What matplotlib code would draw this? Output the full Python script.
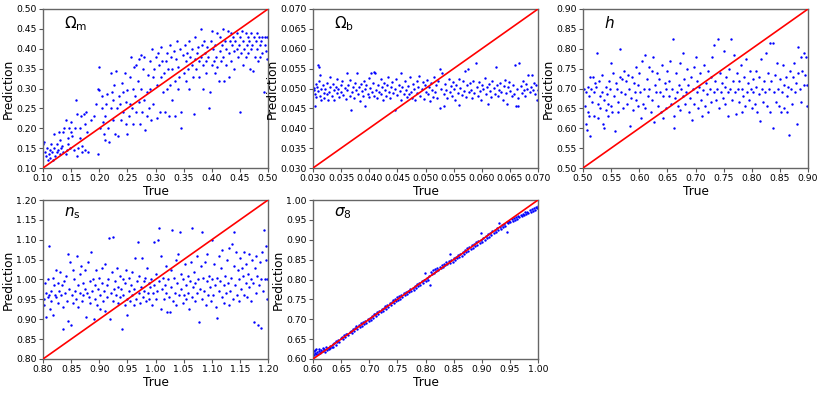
import matplotlib
matplotlib.use("Agg")
import matplotlib.pyplot as plt

# ---------------- data ----------------
om_x = [0.100,0.102,0.103,0.105,0.107,0.108,0.110,0.112,0.113,0.115,0.116,0.118,0.120,0.120,0.122,0.124,0.125,0.127,0.128,0.130,0.130,0.132,0.134,0.135,0.136,0.138,0.140,0.140,0.142,0.144,0.145,0.147,0.148,0.150,0.150,
        0.152,0.155,0.156,0.158,0.160,0.160,0.162,0.165,0.166,0.168,0.170,0.170,0.172,0.174,0.175,0.176,0.178,0.180,0.185,0.190,0.195,0.198,0.198,0.200,0.200,
        0.202,0.204,0.205,0.207,0.208,0.210,0.210,0.212,0.214,0.215,0.217,0.220,0.220,0.222,0.224,0.225,0.227,0.228,0.230,0.232,0.233,0.235,0.237,0.238,0.240,0.242,0.243,0.245,0.247,0.248,0.250,0.250,
        0.252,0.254,0.255,0.256,0.258,0.260,0.260,0.262,0.264,0.265,0.266,0.268,0.270,0.270,0.272,0.274,0.275,0.276,0.278,0.280,0.280,0.282,0.284,0.285,0.286,0.288,0.290,0.290,0.292,0.294,0.295,0.296,0.298,
        0.300,0.302,0.303,0.305,0.306,0.308,0.310,0.310,0.312,0.314,0.315,0.316,0.318,0.320,0.320,0.322,0.324,0.325,0.326,0.328,0.330,0.330,0.332,0.334,0.335,0.337,0.338,0.340,0.340,0.342,0.344,0.345,0.346,0.348,0.350,
        0.352,0.354,0.355,0.356,0.358,0.360,0.360,0.362,0.364,0.365,0.366,0.368,0.370,0.370,0.372,0.374,0.375,0.377,0.378,0.380,0.380,0.382,0.384,0.385,0.386,0.388,0.390,0.390,0.392,0.394,0.395,0.396,0.398,0.400,
        0.400,0.402,0.404,0.405,0.406,0.408,0.410,0.410,0.412,0.414,0.415,0.416,0.418,0.420,0.420,0.422,0.424,0.425,0.426,0.428,0.430,0.430,0.432,0.434,0.435,0.436,0.438,0.440,0.440,0.442,0.444,0.445,0.446,0.448,0.450,
        0.450,0.452,0.454,0.455,0.456,0.458,0.460,0.460,0.462,0.464,0.465,0.466,0.468,0.470,0.470,0.472,0.474,0.475,0.476,0.478,0.480,0.480,0.482,0.484,0.485,0.486,0.488,0.490,0.490,0.492,0.494,0.495,0.496,0.498,0.499]
om_y = [0.160,0.165,0.140,0.130,0.150,0.120,0.135,0.145,0.125,0.160,0.140,0.120,0.150,0.185,0.130,0.140,0.160,0.145,0.190,0.135,0.170,0.150,0.155,0.190,0.140,0.200,0.135,0.220,0.145,0.160,0.175,0.200,0.150,0.215,0.190,
        0.180,0.145,0.200,0.270,0.235,0.130,0.150,0.175,0.200,0.230,0.140,0.155,0.235,0.145,0.210,0.240,0.190,0.140,0.220,0.230,0.260,0.300,0.135,0.295,0.355,
        0.200,0.280,0.250,0.215,0.185,0.230,0.170,0.260,0.285,0.200,0.165,0.250,0.340,0.290,0.270,0.220,0.310,0.185,0.345,0.250,0.180,0.280,0.260,0.220,0.315,0.240,0.290,0.340,0.210,0.265,0.185,0.295,
        0.230,0.260,0.330,0.380,0.250,0.300,0.210,0.355,0.280,0.240,0.360,0.320,0.265,0.375,0.210,0.385,0.300,0.240,0.350,0.270,0.380,0.195,0.290,0.230,0.335,0.250,0.370,0.300,0.220,0.400,0.330,0.260,0.350,
        0.380,0.225,0.310,0.390,0.360,0.240,0.330,0.405,0.370,0.290,0.340,0.240,0.370,0.390,0.300,0.350,0.230,0.410,0.310,0.380,0.350,0.270,0.395,0.230,0.320,0.375,0.420,0.300,0.355,0.330,0.400,0.200,0.240,0.385,0.340,
        0.410,0.370,0.320,0.390,0.350,0.420,0.300,0.380,0.360,0.400,0.330,0.235,0.375,0.430,0.350,0.390,0.405,0.370,0.330,0.450,0.380,0.410,0.360,0.300,0.420,0.390,0.370,0.340,0.405,0.380,0.250,0.290,0.420,0.360,
        0.445,0.400,0.370,0.340,0.410,0.380,0.440,0.355,0.320,0.395,0.430,0.370,0.410,0.450,0.380,0.320,0.420,0.400,0.360,0.445,0.390,0.330,0.420,0.440,0.370,0.410,0.430,0.395,0.350,0.420,0.400,0.440,0.380,0.410,0.240,
        0.430,0.390,0.445,0.420,0.360,0.400,0.440,0.380,0.410,0.430,0.390,0.420,0.350,0.440,0.400,0.410,0.345,0.430,0.380,0.420,0.400,0.440,0.370,0.430,0.410,0.380,0.420,0.430,0.390,0.290,0.410,0.430,0.395,0.375,0.430]

ob_x = [0.0301,0.0302,0.0303,0.0304,0.0305,0.0306,0.0307,0.0308,0.0309,0.0310,0.0311,0.0312,0.0313,0.0314,0.0315,0.0317,0.0319,0.0320,0.0322,0.0324,0.0325,0.0327,0.0328,0.0330,0.0331,0.0333,0.0335,0.0337,0.0338,0.0340,
        0.0342,0.0343,0.0345,0.0347,0.0349,0.0350,0.0352,0.0354,0.0356,0.0358,0.0360,0.0361,0.0363,0.0365,0.0366,0.0368,0.0369,0.0371,0.0373,0.0375,0.0376,0.0378,0.0380,0.0381,0.0383,0.0385,0.0387,0.0389,0.0390,0.0392,
        0.0393,0.0395,0.0397,0.0399,0.0400,0.0402,0.0403,0.0405,0.0406,0.0408,0.0409,0.0411,0.0412,0.0414,0.0416,0.0418,0.0420,0.0421,0.0423,0.0425,0.0427,0.0428,0.0430,0.0432,0.0434,0.0435,0.0437,0.0439,0.0441,0.0443,
        0.0445,0.0446,0.0448,0.0450,0.0452,0.0454,0.0456,0.0457,0.0459,0.0461,0.0463,0.0465,0.0467,0.0469,0.0470,0.0472,0.0474,0.0476,0.0478,0.0480,0.0482,0.0484,0.0485,0.0487,0.0489,0.0491,0.0493,0.0495,0.0497,0.0499,
        0.0500,0.0502,0.0504,0.0506,0.0508,0.0510,0.0512,0.0513,0.0515,0.0517,0.0519,0.0521,0.0523,0.0525,0.0526,0.0528,0.0530,0.0532,0.0533,0.0535,0.0537,0.0539,0.0541,0.0543,0.0545,0.0547,0.0549,0.0551,0.0553,0.0555,
        0.0557,0.0559,0.0560,0.0562,0.0564,0.0566,0.0568,0.0570,0.0572,0.0574,0.0575,0.0577,0.0579,0.0581,0.0583,0.0585,0.0587,0.0589,0.0591,0.0593,0.0595,0.0597,0.0599,0.0601,0.0603,0.0605,0.0607,0.0609,0.0611,0.0613,
        0.0615,0.0617,0.0619,0.0621,0.0623,0.0625,0.0627,0.0629,0.0631,0.0633,0.0635,0.0637,0.0639,0.0641,0.0643,0.0645,0.0647,0.0649,0.0651,0.0653,0.0655,0.0657,0.0659,0.0660,0.0662,0.0664,0.0665,0.0667,0.0669,0.0671,
        0.0673,0.0675,0.0677,0.0679,0.0681,0.0683,0.0685,0.0687,0.0689,0.0691,0.0693,0.0695,0.0697,0.0698,0.0700]
ob_y = [0.0495,0.0502,0.0457,0.0487,0.0512,0.0478,0.0505,0.0560,0.0493,0.0555,0.0520,0.0482,0.0535,0.0498,0.0470,0.0508,0.0489,0.0476,0.0500,0.0515,0.0485,0.0470,0.0492,0.0530,0.0503,0.0481,0.0512,0.0495,0.0472,0.0505,
        0.0488,0.0525,0.0499,0.0478,0.0510,0.0492,0.0518,0.0484,0.0502,0.0473,0.0540,0.0496,0.0508,0.0480,0.0522,0.0445,0.0490,0.0503,0.0476,0.0515,0.0497,0.0540,0.0486,0.0505,0.0468,0.0511,0.0493,0.0480,0.0520,0.0499,
        0.0456,0.0508,0.0486,0.0527,0.0478,0.0502,0.0540,0.0490,0.0513,0.0542,0.0482,0.0540,0.0497,0.0475,0.0510,0.0492,0.0523,0.0486,0.0504,0.0470,0.0515,0.0495,0.0482,0.0508,0.0528,0.0491,0.0477,0.0503,0.0516,0.0488,
        0.0447,0.0500,0.0525,0.0483,0.0510,0.0494,0.0472,0.0540,0.0505,0.0487,0.0518,0.0496,0.0479,0.0507,0.0485,0.0528,0.0492,0.0476,0.0512,0.0498,0.0470,0.0520,0.0489,0.0505,0.0531,0.0481,0.0498,0.0516,0.0474,0.0509,
        0.0490,0.0522,0.0485,0.0503,0.0468,0.0515,0.0496,0.0479,0.0530,0.0492,0.0508,0.0475,0.0519,0.0550,0.0452,0.0500,0.0540,0.0455,0.0487,0.0512,0.0495,0.0476,0.0525,0.0490,0.0507,0.0481,0.0516,0.0498,0.0472,0.0510,
        0.0488,0.0523,0.0458,0.0502,0.0484,0.0518,0.0494,0.0545,0.0478,0.0508,0.0550,0.0490,0.0514,0.0497,0.0475,0.0520,0.0488,0.0565,0.0504,0.0482,0.0516,0.0493,0.0471,0.0510,0.0498,0.0527,0.0485,0.0505,0.0460,0.0512,
        0.0494,0.0478,0.0520,0.0501,0.0487,0.0555,0.0509,0.0480,0.0496,0.0515,0.0490,0.0472,0.0506,0.0522,0.0488,0.0462,0.0503,0.0517,0.0493,0.0480,0.0510,0.0485,0.0560,0.0455,0.0498,0.0476,0.0455,0.0565,0.0507,0.0489,
        0.0520,0.0496,0.0481,0.0512,0.0500,0.0535,0.0490,0.0503,0.0535,0.0497,0.0515,0.0486,0.0509,0.0470,0.0495]

h_x = [0.501,0.503,0.505,0.506,0.507,0.508,0.509,0.510,0.511,0.512,0.513,0.515,0.516,0.518,0.519,0.520,0.522,0.523,0.525,0.526,0.527,0.528,0.530,0.531,0.533,0.534,0.535,0.537,0.538,0.540,
       0.541,0.542,0.544,0.545,0.547,0.548,0.549,0.550,0.551,0.553,0.555,0.557,0.558,0.560,0.562,0.563,0.565,0.566,0.568,0.570,0.571,0.573,0.575,0.577,0.578,0.580,0.582,0.583,0.585,0.587,
       0.588,0.590,0.592,0.594,0.595,0.597,0.598,0.600,0.602,0.603,0.605,0.606,0.608,0.610,0.611,0.613,0.615,0.617,0.618,0.620,0.622,0.623,0.625,0.626,0.628,0.630,0.632,0.633,0.635,0.637,
       0.638,0.640,0.642,0.643,0.645,0.647,0.648,0.650,0.652,0.653,0.655,0.657,0.658,0.660,0.661,0.662,0.663,0.665,0.667,0.668,0.670,0.672,0.673,0.675,0.677,0.678,0.680,0.682,0.683,0.685,
       0.687,0.688,0.690,0.692,0.693,0.695,0.697,0.698,0.700,0.702,0.703,0.705,0.707,0.708,0.710,0.712,0.713,0.715,0.717,0.718,0.720,0.722,0.723,0.725,0.727,0.728,0.730,0.732,0.733,0.735,
       0.737,0.738,0.740,0.741,0.743,0.745,0.747,0.748,0.750,0.752,0.753,0.755,0.757,0.758,0.760,0.762,0.763,0.765,0.767,0.768,0.770,0.772,0.773,0.775,0.777,0.778,0.780,0.782,0.783,0.785,
       0.787,0.788,0.790,0.792,0.793,0.795,0.797,0.798,0.800,0.802,0.803,0.805,0.807,0.808,0.810,0.812,0.813,0.815,0.817,0.818,0.820,0.822,0.823,0.825,0.827,0.828,0.830,0.832,0.833,0.835,
       0.837,0.838,0.840,0.842,0.843,0.845,0.847,0.848,0.850,0.852,0.853,0.855,0.857,0.858,0.860,0.862,0.863,0.865,0.866,0.868,0.870,0.872,0.873,0.875,0.877,0.878,0.880,0.882,0.883,0.885,
       0.887,0.888,0.890,0.892,0.893,0.895,0.897,0.898,0.899]
h_y = [0.700,0.655,0.610,0.690,0.595,0.640,0.705,0.680,0.630,0.580,0.728,0.700,0.665,0.730,0.630,0.690,0.715,0.705,0.790,0.660,0.625,0.720,0.680,0.650,0.735,0.690,0.610,0.670,0.600,0.705,
       0.645,0.685,0.630,0.660,0.720,0.700,0.655,0.765,0.640,0.740,0.680,0.592,0.715,0.700,0.665,0.640,0.800,0.730,0.690,0.725,0.650,0.745,0.685,0.720,0.660,0.735,0.700,0.605,0.675,0.730,
       0.645,0.715,0.690,0.755,0.670,0.710,0.655,0.740,0.690,0.625,0.770,0.660,0.700,0.785,0.650,0.725,0.680,0.755,0.700,0.640,0.745,0.670,0.780,0.615,0.710,0.690,0.740,0.655,0.725,0.690,
       0.640,0.760,0.680,0.625,0.715,0.700,0.650,0.745,0.680,0.720,0.770,0.660,0.700,0.825,0.630,0.600,0.675,0.740,0.690,0.655,0.710,0.765,0.645,0.700,0.680,0.790,0.725,0.660,0.690,0.750,
       0.710,0.640,0.675,0.730,0.620,0.700,0.755,0.660,0.780,0.690,0.720,0.650,0.705,0.740,0.670,0.630,0.695,0.760,0.655,0.715,0.685,0.745,0.640,0.700,0.730,0.665,0.780,0.690,0.810,0.720,
       0.670,0.700,0.825,0.650,0.740,0.690,0.715,0.675,0.795,0.705,0.660,0.730,0.630,0.690,0.750,0.700,0.825,0.670,0.720,0.785,0.690,0.635,0.740,0.700,0.665,0.720,0.760,0.640,0.700,0.680,
       0.730,0.655,0.775,0.690,0.715,0.670,0.745,0.700,0.650,0.725,0.690,0.660,0.745,0.705,0.640,0.730,0.685,0.617,0.775,0.700,0.665,0.720,0.690,0.790,0.655,0.740,0.700,0.815,0.640,0.720,
       0.815,0.600,0.690,0.735,0.665,0.765,0.700,0.655,0.725,0.640,0.690,0.760,0.710,0.650,0.730,0.680,0.640,0.705,0.584,0.745,0.700,0.660,0.730,0.765,0.690,0.715,0.610,0.805,0.740,0.700,
       0.780,0.665,0.745,0.710,0.790,0.735,0.780,0.710,0.655]

ns_x = [0.801,0.802,0.803,0.805,0.806,0.808,0.809,0.810,0.811,0.812,0.814,0.815,0.817,0.818,0.820,0.821,0.823,0.824,0.826,0.827,0.829,0.830,0.832,0.833,0.835,0.836,0.838,0.839,0.841,0.842,
        0.844,0.845,0.847,0.848,0.850,0.851,0.853,0.854,0.856,0.857,0.859,0.860,0.862,0.863,0.865,0.866,0.868,0.869,0.871,0.872,0.874,0.875,0.877,0.878,0.880,0.881,0.883,0.884,0.886,0.887,
        0.889,0.890,0.892,0.893,0.895,0.896,0.898,0.899,0.901,0.902,0.904,0.905,0.907,0.908,0.910,0.911,0.913,0.914,0.916,0.918,0.919,0.921,0.922,0.924,0.925,0.927,0.928,0.930,0.931,0.933,
        0.934,0.936,0.937,0.939,0.940,0.942,0.943,0.945,0.946,0.948,0.949,0.950,0.952,0.953,0.955,0.956,0.958,0.959,0.961,0.962,0.964,0.965,0.967,0.968,0.970,0.971,0.973,0.974,0.976,0.977,
        0.979,0.980,0.982,0.983,0.985,0.986,0.988,0.989,0.991,0.992,0.994,0.995,0.997,0.998,1.000,1.001,1.003,1.004,1.006,1.007,1.009,1.010,1.012,1.013,1.015,1.016,1.018,1.019,1.021,1.022,
        1.024,1.025,1.027,1.028,1.030,1.031,1.033,1.034,1.036,1.037,1.039,1.040,1.042,1.043,1.045,1.046,1.048,1.049,1.051,1.052,1.054,1.055,1.057,1.058,1.060,1.061,1.063,1.064,1.065,1.067,
        1.068,1.070,1.071,1.073,1.074,1.076,1.078,1.079,1.080,1.082,1.083,1.085,1.086,1.088,1.089,1.091,1.092,1.094,1.095,1.097,1.098,1.100,1.101,1.103,1.104,1.106,1.107,1.109,1.110,1.112,
        1.113,1.115,1.116,1.118,1.119,1.121,1.122,1.124,1.125,1.127,1.128,1.130,1.131,1.133,1.134,1.136,1.137,1.139,1.140,1.142,1.143,1.145,1.146,1.148,1.149,1.151,1.152,1.154,1.155,1.157,
        1.158,1.160,1.161,1.163,1.164,1.166,1.167,1.169,1.170,1.172,1.173,1.175,1.176,1.178,1.179,1.181,1.183,1.184,1.186,1.187,1.188,1.190,1.191,1.193,1.194,1.196,1.197,1.198,1.199]
ns_y = [0.950,0.935,0.990,0.965,0.905,0.955,1.000,1.085,0.960,0.925,0.970,0.945,1.005,0.910,0.985,0.960,1.025,0.955,0.990,0.940,0.970,1.020,0.960,0.985,0.875,0.930,0.995,0.965,1.010,0.945,
        1.065,0.895,0.975,1.045,0.885,0.960,1.025,0.940,1.000,0.970,0.950,1.060,0.985,0.930,1.015,0.965,1.035,0.945,0.990,0.960,1.025,0.975,0.905,0.965,1.045,0.955,0.995,0.940,1.070,0.970,
        1.000,0.900,0.985,0.950,1.025,0.935,0.975,1.005,0.960,0.925,0.990,1.030,0.945,0.970,1.040,0.920,0.985,0.955,1.000,1.105,0.900,0.965,1.020,0.945,1.108,0.975,0.995,0.960,1.030,0.940,
        0.980,1.010,0.955,0.975,0.875,1.000,0.960,0.935,0.990,1.025,0.950,0.910,0.970,1.005,0.945,0.985,0.960,1.020,0.935,0.975,1.055,0.950,0.995,1.095,0.965,1.010,0.940,0.980,1.055,0.955,
        0.995,0.970,1.005,0.945,1.030,0.965,0.990,0.950,0.980,1.000,0.935,0.965,1.095,0.985,0.950,1.015,0.970,1.100,0.995,1.130,0.925,1.060,0.975,1.005,0.950,0.985,1.035,0.965,0.917,1.000,
        0.955,0.917,1.025,0.980,1.125,0.945,1.005,0.965,1.050,0.935,0.990,1.065,0.960,1.120,1.015,0.975,0.940,1.000,0.960,1.040,0.985,0.950,1.010,0.965,0.925,0.995,1.045,0.955,1.130,0.980,
        1.020,0.945,0.990,1.060,0.965,1.000,0.893,0.975,1.035,1.120,0.950,1.005,0.970,1.045,0.935,0.995,1.065,0.960,1.010,0.980,0.945,1.100,1.000,0.960,1.040,0.985,0.930,1.005,0.902,1.060,
        0.970,0.995,1.030,0.955,1.075,0.985,0.940,1.010,0.965,1.050,0.990,0.935,1.080,0.970,1.005,1.090,0.950,1.035,1.120,0.985,1.070,0.960,1.025,1.000,0.945,1.055,0.975,1.030,1.010,0.960,
        1.070,0.990,1.040,0.955,1.015,1.065,0.980,1.000,0.945,1.050,0.990,0.893,1.030,0.965,1.060,1.010,0.885,0.985,1.045,1.000,0.878,1.070,0.970,1.125,1.000,1.050,1.085,0.950,1.000]

s8_x = [0.600,0.601,0.602,0.603,0.604,0.605,0.606,0.607,0.608,0.610,0.611,0.612,0.614,0.615,0.617,0.618,0.620,0.621,0.623,0.624,0.626,0.628,0.630,0.631,0.633,0.635,0.636,0.638,0.640,0.641,
        0.643,0.645,0.647,0.649,0.651,0.653,0.655,0.657,0.659,0.661,0.663,0.665,0.667,0.669,0.671,0.673,0.675,0.677,0.679,0.681,0.683,0.685,0.687,0.689,0.691,0.693,0.695,0.697,0.699,0.701,
        0.703,0.705,0.707,0.709,0.711,0.712,0.714,0.716,0.718,0.720,0.722,0.724,0.726,0.728,0.730,0.732,0.734,0.736,0.738,0.740,0.742,0.744,0.745,0.747,0.749,0.751,0.753,0.755,0.757,0.759,
        0.761,0.763,0.765,0.767,0.769,0.771,0.773,0.775,0.777,0.779,0.781,0.783,0.785,0.787,0.789,0.791,0.793,0.795,0.797,0.799,0.800,0.802,0.804,0.806,0.808,0.809,0.811,0.813,0.815,0.817,
        0.819,0.821,0.823,0.825,0.827,0.829,0.831,0.833,0.835,0.837,0.839,0.841,0.843,0.844,0.846,0.848,0.850,0.852,0.854,0.856,0.858,0.860,0.862,0.864,0.866,0.868,0.870,0.872,0.874,0.876,
        0.878,0.880,0.882,0.884,0.886,0.888,0.890,0.892,0.894,0.896,0.898,0.899,0.901,0.903,0.905,0.907,0.909,0.911,0.913,0.915,0.917,0.919,0.921,0.923,0.925,0.927,0.929,0.930,0.932,0.934,
        0.936,0.938,0.940,0.942,0.944,0.945,0.947,0.949,0.951,0.953,0.955,0.957,0.959,0.961,0.963,0.965,0.967,0.969,0.971,0.973,0.975,0.977,0.979,0.981,0.983,0.985,0.987,0.989,0.991,0.993,
        0.995,0.997,0.999,1.000]
s8_y = [0.613,0.620,0.610,0.622,0.616,0.612,0.624,0.617,0.613,0.620,0.626,0.615,0.622,0.618,0.627,0.620,0.624,0.617,0.630,0.622,0.628,0.624,0.633,0.627,0.631,0.637,0.630,0.640,0.636,0.645,
        0.642,0.648,0.644,0.652,0.655,0.650,0.660,0.656,0.662,0.664,0.660,0.668,0.670,0.665,0.675,0.671,0.678,0.684,0.676,0.686,0.680,0.690,0.684,0.692,0.688,0.696,0.691,0.700,0.695,0.704,
        0.699,0.708,0.703,0.712,0.714,0.707,0.718,0.713,0.722,0.717,0.727,0.721,0.729,0.733,0.726,0.737,0.731,0.740,0.735,0.744,0.748,0.740,0.752,0.745,0.755,0.749,0.758,0.752,0.761,0.756,
        0.765,0.760,0.768,0.763,0.772,0.768,0.777,0.771,0.779,0.774,0.783,0.778,0.788,0.783,0.792,0.787,0.797,0.791,0.800,0.816,0.795,0.805,0.800,0.810,0.785,0.820,0.813,0.823,0.817,0.826,
        0.821,0.829,0.825,0.832,0.828,0.836,0.831,0.839,0.836,0.843,0.838,0.846,0.842,0.864,0.850,0.845,0.853,0.849,0.857,0.853,0.861,0.857,0.865,0.860,0.869,0.864,0.873,0.868,0.878,0.872,
        0.882,0.876,0.886,0.880,0.889,0.884,0.894,0.888,0.897,0.892,0.916,0.900,0.895,0.905,0.900,0.910,0.904,0.914,0.908,0.918,0.912,0.921,0.916,0.925,0.920,0.929,0.924,0.941,0.933,0.928,
        0.937,0.932,0.940,0.935,0.944,0.920,0.941,0.948,0.944,0.951,0.947,0.954,0.950,0.957,0.953,0.960,0.956,0.963,0.959,0.966,0.962,0.969,0.965,0.971,0.968,0.974,0.970,0.977,0.973,0.980,
        0.976,0.983,0.979,0.986]

panels = [
    (om_x, om_y, (0.10, 0.50), [0.10,0.15,0.20,0.25,0.30,0.35,0.40,0.45,0.50], "{:.2f}", r"$\Omega_{\rm m}$"),
    (ob_x, ob_y, (0.030, 0.070), [0.030,0.035,0.040,0.045,0.050,0.055,0.060,0.065,0.070], "{:.3f}", r"$\Omega_{\rm b}$"),
    (h_x, h_y, (0.50, 0.90), [0.50,0.55,0.60,0.65,0.70,0.75,0.80,0.85,0.90], "{:.2f}", r"$h$"),
    (ns_x, ns_y, (0.80, 1.20), [0.80,0.85,0.90,0.95,1.00,1.05,1.10,1.15,1.20], "{:.2f}", r"$n_{\rm s}$"),
    (s8_x, s8_y, (0.60, 1.00), [0.60,0.65,0.70,0.75,0.80,0.85,0.90,0.95,1.00], "{:.2f}", r"$\sigma_8$"),
]

# ---------------- layout ----------------
W, H = 822, 393
fig = plt.figure(figsize=(W/100, H/100), dpi=100)
boxes = [(43, 9), (313, 9), (583, 9), (43, 200), (313, 200)]
aw, ah = 225, 159

for (x, y, lim, ticks, fmt, lab), (bx, by) in zip(panels, boxes):
    ax = fig.add_axes([bx/W, 1 - (by+ah)/H, aw/W, ah/H])
    ax.scatter(x, y, s=3, c='blue', marker='o', linewidths=0, zorder=2)
    ax.plot(lim, lim, color='red', lw=1.2, zorder=3)
    ax.set_xlim(lim)
    ax.set_ylim(lim)
    ax.set_xticks(ticks)
    ax.set_yticks(ticks)
    ax.set_xticklabels([fmt.format(t) for t in ticks], fontsize=6.7)
    ax.set_yticklabels([fmt.format(t) for t in ticks], fontsize=6.7)
    ax.tick_params(length=3, width=0.8, pad=1.5, color='#555555')
    ax.set_xlabel("True", fontsize=8.7, labelpad=1)
    ax.set_ylabel("Prediction", fontsize=8.7, labelpad=1)
    for sp in ax.spines.values():
        sp.set_color('#666666')
        sp.set_linewidth(1.0)
    ax.text(0.095, 0.965, lab, transform=ax.transAxes, fontsize=11, va='top', ha='left')

fig.savefig("out.png", dpi=100)
